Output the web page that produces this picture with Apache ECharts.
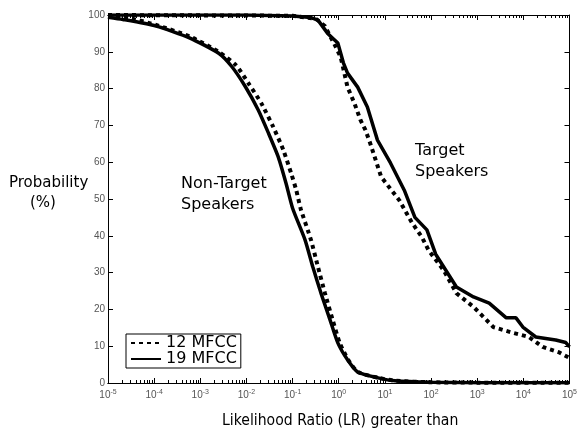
<!DOCTYPE html>
<html>
<head>
<meta charset="utf-8">
<script src="https://cdn.jsdelivr.net/npm/echarts@6/dist/echarts.min.js"></script>
<style>
  html, body { margin: 0; padding: 0; background: #fff; }
  #chart { width: 580px; height: 439px; }
</style>
</head>
<body>
<div id="chart"></div>
<script>
const nonTarget12LR = [1e-5, 3.2e-5, 1.1e-4, 5.8e-4, 2.5e-3, 5.9e-3, 1.1e-2, 2.1e-2, 3.8e-2, 6.3e-2, 9.3e-2, 0.12, 0.15, 0.25, 0.355, 0.5, 0.74, 1.05, 1.6, 2.6, 7.2, 17, 100, 1000, 1e5];
const nonTarget12P  = [99.6, 99, 97.3, 94.2, 90, 86.4, 81.5, 76, 69.6, 63.3, 57, 52.4, 47.3, 38.9, 31.5, 24.5, 17.1, 10.9, 6.3, 3, 1.4, 0.6, 0.2, 0.1, 0.05];

const nonTarget19LR = [1e-5, 2.1e-5, 1.1e-4, 5.8e-4, 2.5e-3, 4.8e-3, 9.5e-3, 1.8e-2, 3.0e-2, 4.9e-2, 7.2e-2, 0.10, 0.186, 0.275, 0.41, 0.65, 0.955, 1.55, 2.57, 7.1, 16.6, 100, 1000, 1e5];
const nonTarget19P  = [99.4, 98.8, 97, 93.8, 89.6, 86, 80.5, 74.2, 67.9, 61.4, 54.3, 47.5, 38.9, 31.5, 24.5, 17.1, 10.9, 6.3, 3, 1.4, 0.6, 0.2, 0.1, 0.05];

const target12LR = [1e-5, 0.1, 0.316, 0.5, 0.81, 1.1, 1.55, 2.19, 2.95, 3.8, 4.79, 8.3, 20.4, 38.9, 63, 89, 186, 355, 832, 2240, 6030, 13200, 26300, 57500, 1e5];
const target12P  = [100, 99.8, 99, 97, 92, 88.6, 80.4, 76, 71.5, 68.7, 65.2, 56, 49.7, 43.5, 39.7, 36, 30.7, 24.4, 20.7, 15.2, 13.6, 12.5, 9.8, 8.4, 6.8];

const target19LR = [1e-5, 0.01, 0.1, 0.25, 0.355, 0.575, 0.955, 1.26, 1.55, 2.57, 4.17, 6.9, 13.2, 26.3, 44.7, 81.3, 126, 355, 832, 1820, 4270, 6920, 9770, 18600, 50100, 83200, 1e5];
const target19P  = [100, 100, 99.7, 99.3, 98.6, 95, 92.4, 87, 84.2, 80.4, 75, 66, 59.8, 52.4, 45, 41.6, 35, 26.1, 23.4, 21.7, 17.7, 17.7, 15.2, 12.5, 11.7, 11, 9.8];

const majorExps = [-5, -4, -3, -2, -1, 0, 1, 2, 3, 4, 5];

function pairs(xs, ys) {
  return xs.map(function (x, i) { return [x, ys[i]]; });
}

// minor tick positions 2..9 in every decade
let minorTicks = [];
majorExps.slice(0, -1).forEach(function (e) {
  for (let k = 2; k <= 9; k++) minorTicks.push(k * Math.pow(10, e));
});
const majorTicks = majorExps.map(function (e) { return Math.pow(10, e); });

const labelFont = 'Liberation Sans';
const textFont = 'DejaVu Sans';

function xAxisBase(pos, ticks, len, showLabel) {
  return {
    type: 'log',
    logBase: 10,
    min: 1e-5,
    max: 1e5,
    position: pos,
    axisLine: { show: true, onZero: false, lineStyle: { color: '#000', width: 1 } },
    axisTick: { show: true, inside: true, length: len, customValues: ticks, lineStyle: { color: '#000' } },
    axisLabel: {
      show: showLabel,
      customValues: majorTicks,
      margin: 6,
      formatter: function (v) {
        const e = Math.round(Math.log10(v));
        return '{b|10}{s|' + e + '}';
      },
      rich: {
        b: { fontSize: 10, color: '#555', fontFamily: labelFont },
        s: { fontSize: 7, color: '#555', fontFamily: labelFont, verticalAlign: 'top', padding: [0, 0, 5, 0] }
      }
    },
    splitLine: { show: false }
  };
}

const chart = echarts.init(document.getElementById('chart'));
const option = {
  backgroundColor: '#fff',
  animation: false,
  grid: { left: 108, right: 5, top: 15, bottom: 56, containLabel: false },
  legend: {
    orient: 'vertical',
    left: 126,
    top: 334,
    data: ['12 MFCC', '19 MFCC'],
    borderColor: '#000',
    borderWidth: 1,
    borderRadius: 0,
    padding: [1, 4, 1, 4],
    itemGap: 0,
    itemWidth: 30,
    itemHeight: 17,
    itemStyle: { opacity: 0 },
    textStyle: { fontFamily: textFont, fontSize: 16, color: '#000' }
  },
  xAxis: [
    xAxisBase('bottom', majorTicks, 5, true),
    xAxisBase('bottom', minorTicks, 3, false),
    xAxisBase('top', majorTicks, 5, false),
    xAxisBase('top', minorTicks, 3, false)
  ],
  yAxis: [
    {
      type: 'value', min: 0, max: 100, interval: 10, position: 'left',
      axisLine: { show: true, lineStyle: { color: '#000' } },
      axisTick: { show: true, inside: true, length: 5, lineStyle: { color: '#000' } },
      axisLabel: { color: '#555', fontSize: 10, fontFamily: labelFont, margin: 3 },
      splitLine: { show: false }
    },
    {
      type: 'value', min: 0, max: 100, interval: 10, position: 'right',
      axisLine: { show: true, lineStyle: { color: '#000' } },
      axisTick: { show: true, inside: true, length: 5, lineStyle: { color: '#000' } },
      axisLabel: { show: false },
      splitLine: { show: false }
    }
  ],
  graphic: [
    { type: 'text', left: 9, top: 176, style: { text: 'Probability', font: '15px "DejaVu Sans"', fill: '#000' } },
    { type: 'text', left: 30, top: 196, style: { text: '(%)', font: '15px "DejaVu Sans"', fill: '#000' } },
    { type: 'text', left: 181, top: 173, style: { text: 'Non-Target\nSpeakers', font: '16px "DejaVu Sans"', fill: '#000', lineHeight: 21 } },
    { type: 'text', left: 415, top: 140, style: { text: 'Target\nSpeakers', font: '16px "DejaVu Sans"', fill: '#000', lineHeight: 21 } },
    { type: 'text', left: 222, top: 413, style: { text: 'Likelihood Ratio (LR) greater than', font: '15.6px "DejaVu Sans Condensed"', fill: '#000' } }
  ],
  series: [
    {
      name: '12 MFCC', type: 'line', symbol: 'none', xAxisIndex: 0, smooth: 0.2,
      lineStyle: { color: '#000', width: 4, type: [4, 4] },
      itemStyle: { color: '#000' },
      data: pairs(nonTarget12LR, nonTarget12P)
    },
    {
      name: '19 MFCC', type: 'line', symbol: 'none', xAxisIndex: 0, smooth: 0.2,
      lineStyle: { color: '#000', width: 3.5 },
      itemStyle: { color: '#000' },
      data: pairs(nonTarget19LR, nonTarget19P)
    },
    {
      name: '12 MFCC', type: 'line', symbol: 'none', xAxisIndex: 0,
      lineStyle: { color: '#000', width: 4, type: [4, 4] },
      itemStyle: { color: '#000' },
      data: pairs(target12LR, target12P)
    },
    {
      name: '19 MFCC', type: 'line', symbol: 'none', xAxisIndex: 0,
      lineStyle: { color: '#000', width: 3.5 },
      itemStyle: { color: '#000' },
      data: pairs(target19LR, target19P)
    }
  ]
};
chart.setOption(option);
</script>
</body>
</html>
